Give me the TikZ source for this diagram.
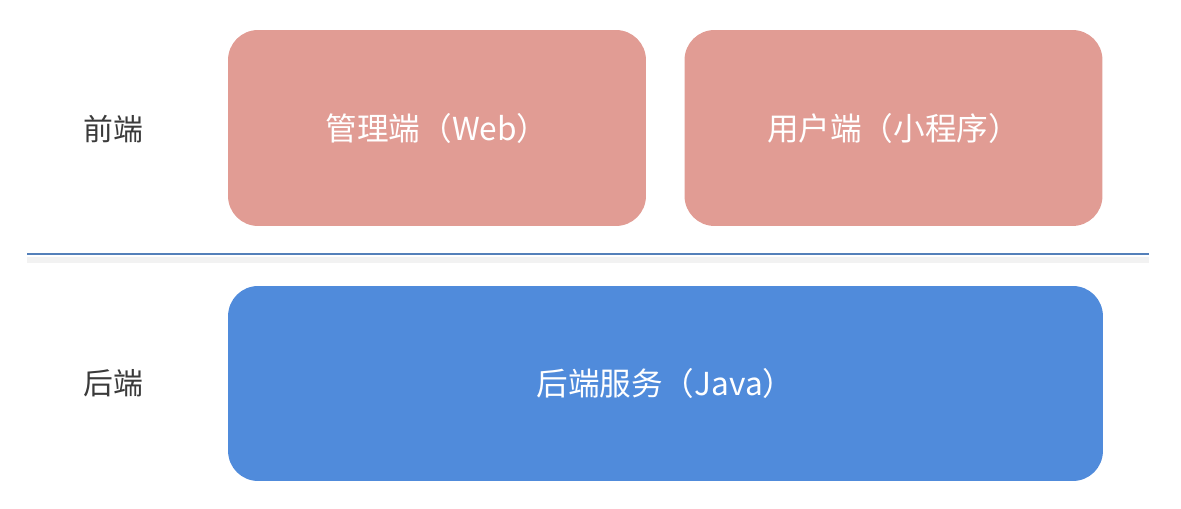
\documentclass[tikz,border=0pt]{standalone}
\usepackage{fontspec}
\setmainfont{Noto Sans CJK SC}
\usetikzlibrary{positioning}

\definecolor{fepink}{RGB}{225,156,148}
\definecolor{beblue}{RGB}{80,139,219}
\definecolor{sepline}{RGB}{84,128,186}
\definecolor{lbltext}{RGB}{58,58,58}

\begin{document}
\begin{tikzpicture}[
  x=0.02cm,
  y=-0.02cm,
  every node/.style={inner sep=0pt, outer sep=0pt},
  layerlabel/.style={font=\fontsize{17}{19}\selectfont, text=lbltext},
  boxtext/.style={font=\fontsize{18}{20}\selectfont, text=white},
  frontbox/.style={fill=fepink, rounded corners=0.6cm, minimum width=8.36cm, minimum height=3.92cm},
  backbox/.style={fill=beblue, rounded corners=0.6cm, minimum width=17.5cm, minimum height=3.9cm},
  sep/.style={draw=sepline, line width=1.1pt}
]

  \path[use as bounding box] (0,0) rectangle (1181,509);

  % Front end row
  \node[frontbox, boxtext] (admin) at (437,128) {管理端（Web）};
  \node[frontbox, boxtext] (user) at (893.5,128) {用户端（小程序）};
  \node[layerlabel] (front) at (113,129) {前端};

  % Divider with a soft shadow
  \coordinate (sepL) at (27,254);
  \coordinate (sepR) at (1149,254);
  \draw[black!5, line width=3pt] ([yshift=-0.12cm]sepL) -- ([yshift=-0.12cm]sepR);
  \draw[sep] (sepL) -- (sepR);

  % Back end row
  \node[backbox, boxtext] (server) at (665.5,383.5) {后端服务（Java）};
  \node[layerlabel] (back) at (113,383) {后端};

\end{tikzpicture}
\end{document}
